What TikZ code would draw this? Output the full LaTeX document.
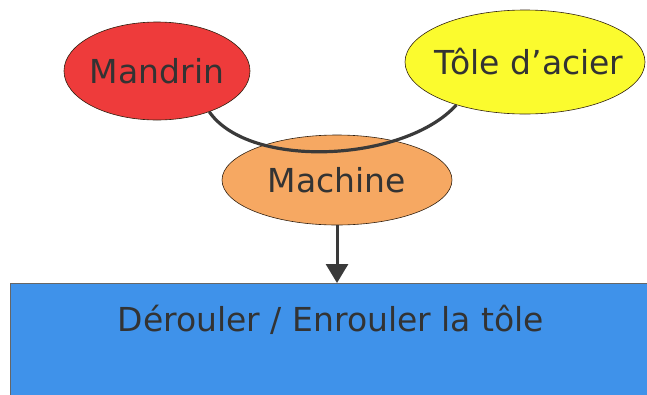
\documentclass[tikz,border=0pt]{standalone}
\usepackage{fontspec}
\setmainfont{DejaVu Sans}
\usepackage{tikz}
\usetikzlibrary{shapes.geometric, arrows.meta, positioning}
\definecolor{mandrinred}{HTML}{EE3B3B}
\definecolor{tolejaune}{HTML}{FBFB2E}
\definecolor{machineorange}{HTML}{F6A862}
\definecolor{tacheblue}{HTML}{3F92EA}
\definecolor{traitgris}{HTML}{3A3A3A}
\tikzset{
  piece/.style={
    ellipse, draw=black!75!brown, line width=0.6pt,
    inner sep=0pt, text=black!80,
    font=\fontsize{33}{38}\selectfont
  },
  tache/.style={
    rectangle, draw=black!60, line width=0.6pt, fill=tacheblue,
    anchor=north, minimum width=642pt, text height=22pt, text depth=80pt,
    inner ysep=26pt, text=black!80,
    font=\fontsize{33}{38}\selectfont
  },
  lien/.style={line width=3.2pt, color=traitgris},
  fleche/.style={-{Triangle[length=19pt, width=22pt]}, line width=3pt, color=traitgris}
}
\begin{document}
\begin{tikzpicture}[x=1pt, y=-1pt]
  \useasboundingbox (0,0) rectangle (647,394);

  % Noeuds
  \node[piece, fill=machineorange, minimum width=230pt, minimum height=90pt] (machine)
    at (337,180) {\makebox[140pt]{Machine}};

  \node[piece, fill=mandrinred, minimum width=186pt, minimum height=98pt] (mandrin)
    at (157,71) {\makebox[110pt]{Mandrin}};

  \node[piece, fill=tolejaune, minimum width=240pt, minimum height=104pt] (tole)
    at (525,62) {\makebox[150pt]{\hspace{8pt}Tôle d'acier}};

  \node[tache] (derouler) at (331,283) {Dérouler / Enrouler la tôle};

  % Liaison mandrin - tôle
  \draw[lien] (mandrin.-38) .. controls (250,170) and (405,162) .. (tole.-148);

  % Fleche vers la tache
  \draw[fleche] (machine.south) -- (machine.south |- derouler.north);

\end{tikzpicture}
\end{document}
